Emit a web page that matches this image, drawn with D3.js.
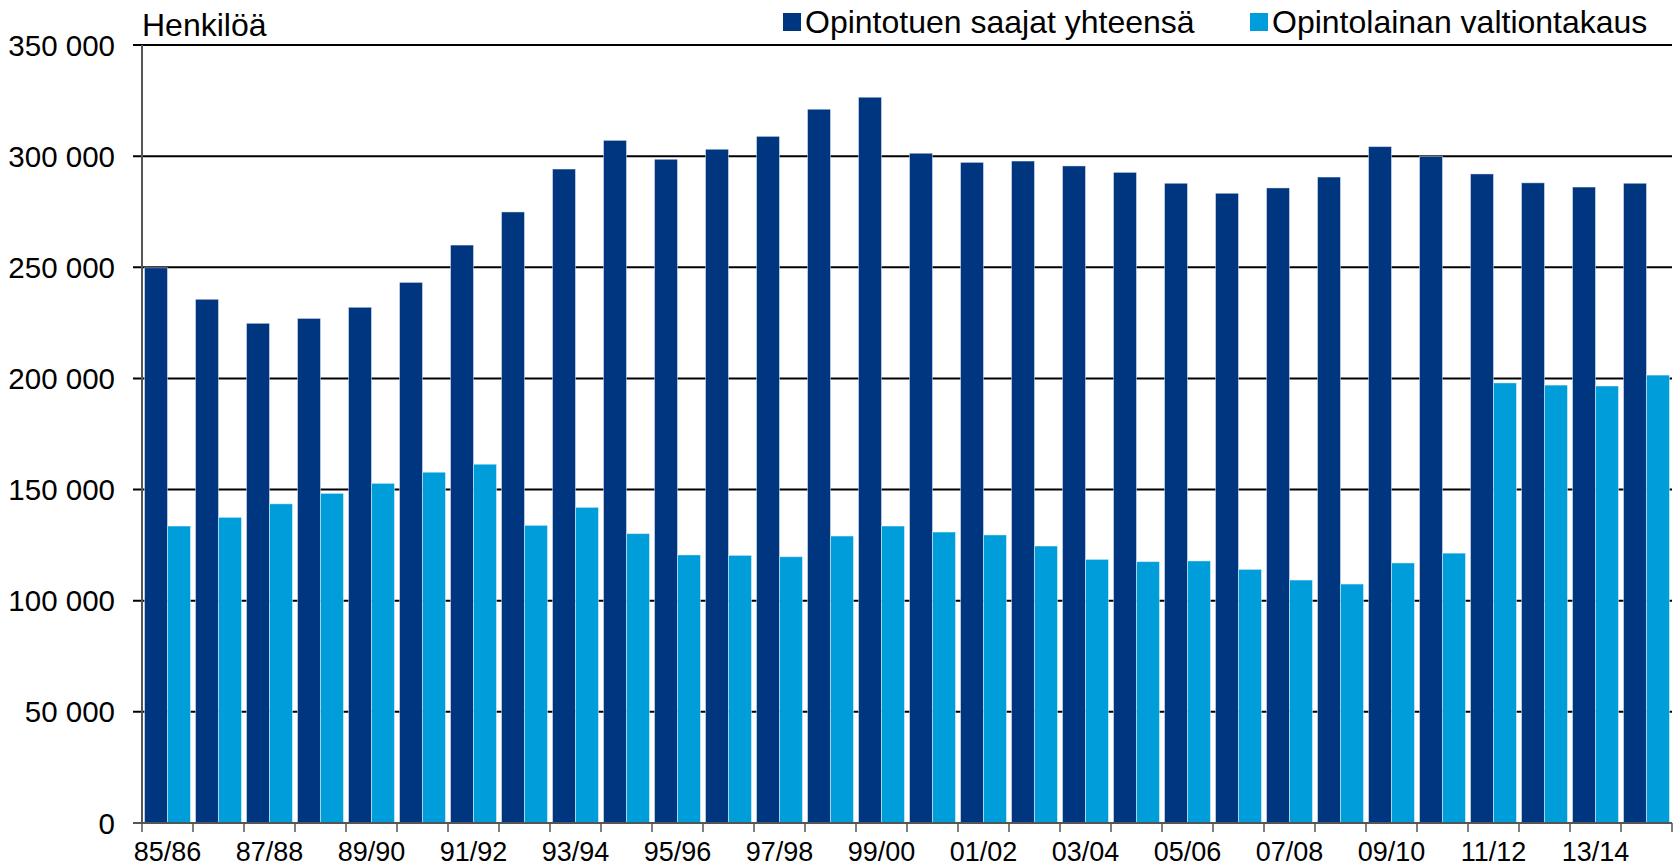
<!DOCTYPE html>
<html>
<head>
<meta charset="utf-8">
<script src="https://cdn.jsdelivr.net/npm/d3@7"></script>
<style>
  body { margin: 0; background: #fff; }
  svg text { font-family: "Liberation Sans", Arial, sans-serif; fill: #000; }
</style>
</head>
<body>
<div id="chart"></div>
<script>
// academic years 85/86 .. 14/15
var years = ['85/86','86/87','87/88','88/89','89/90','90/91','91/92','92/93','93/94','94/95',
             '95/96','96/97','97/98','98/99','99/00','00/01','01/02','02/03','03/04','04/05',
             '05/06','06/07','07/08','08/09','09/10','10/11','11/12','12/13','13/14','14/15'];

// Opintotuen saajat yhteensä
var saajat = [249800, 235600, 224800, 227000, 232000, 243200, 260000, 274900, 294200, 307100,
              298600, 303100, 308900, 321100, 326500, 301300, 297200, 297800, 295600, 292700,
              287800, 283300, 285700, 290600, 304300, 299900, 292000, 288000, 286100, 287800];

// Opintolainan valtiontakaus
var takaus = [133600, 137500, 143600, 148300, 152800, 157800, 161400, 133900, 142000, 130200,
              120600, 120400, 119800, 129100, 133600, 130900, 129600, 124600, 118600, 117600,
              117900, 114100, 109300, 107500, 117000, 121400, 198000, 197000, 196600, 201500];

var seriesNames = ['Opintotuen saajat yhteensä', 'Opintolainan valtiontakaus'];
var colors = ['#003580', '#009ddb'];
var yTicks = [0, 50000, 100000, 150000, 200000, 250000, 300000, 350000];

var width = 1676, height = 867;
var plotLeft = 142, plotRight = 1672, plotTop = 45, plotBottom = 823;

var svg = d3.select('#chart')
    .append('svg')
    .attr('width', width)
    .attr('height', height);

var y = d3.scaleLinear().domain([0, 350000]).range([plotBottom, plotTop]);
var x0 = d3.scaleBand().domain(years).range([plotLeft, plotRight]).paddingInner(0).paddingOuter(0);
var x1 = d3.scaleBand().domain([0, 1]).range([2.5, x0.bandwidth() - 2.5]);

// gridlines
svg.append('g')
    .selectAll('line')
    .data(yTicks.filter(function(d){ return d > 0; }))
    .enter()
    .append('line')
    .attr('x1', plotLeft - 9)
    .attr('x2', plotRight)
    .attr('y1', function(d){ return y(d); })
    .attr('y2', function(d){ return y(d); })
    .attr('stroke', '#000')
    .attr('stroke-width', 2);

// y labels
svg.append('g')
    .selectAll('text')
    .data(yTicks)
    .enter()
    .append('text')
    .attr('x', 115)
    .attr('y', function(d){ return y(d); })
    .attr('dy', '0.36em')
    .attr('text-anchor', 'end')
    .style('font-size', '29.5px')
    .text(function(d){ return d3.format(',')(d).replace(/,/g, ' '); });

// bars
var rows = years.map(function(yr, i){ return {year: yr, vals: [saajat[i], takaus[i]]}; });

var groups = svg.append('g')
    .selectAll('g')
    .data(rows)
    .enter()
    .append('g')
    .attr('transform', function(d){ return 'translate(' + x0(d.year) + ',0)'; });

groups.selectAll('rect')
    .data(function(d){ return d.vals; })
    .enter()
    .append('rect')
    .attr('x', function(d, i){ return x1(i); })
    .attr('width', x1.bandwidth())
    .attr('y', function(d){ return y(d); })
    .attr('height', function(d){ return y(0) - y(d); })
    .attr('fill', function(d, i){ return colors[i]; })
    .attr('stroke', 'rgba(255,255,255,0.45)')
    .attr('stroke-width', 1);

// axes lines
svg.append('line')
    .attr('x1', plotLeft).attr('x2', plotLeft)
    .attr('y1', plotTop).attr('y2', plotBottom)
    .attr('stroke', '#555').attr('stroke-width', 2);

svg.append('line')
    .attr('x1', plotLeft - 9).attr('x2', plotRight)
    .attr('y1', plotBottom).attr('y2', plotBottom)
    .attr('stroke', '#555').attr('stroke-width', 2);

// x ticks at category boundaries
var bounds = years.map(function(d){ return x0(d); }).concat([plotRight]);
svg.append('g')
    .selectAll('line')
    .data(bounds)
    .enter()
    .append('line')
    .attr('x1', function(d){ return d; })
    .attr('x2', function(d){ return d; })
    .attr('y1', plotBottom)
    .attr('y2', plotBottom + 9)
    .attr('stroke', '#555')
    .attr('stroke-width', 1.5);

// x labels, every other year
svg.append('g')
    .selectAll('text')
    .data(years.filter(function(d, i){ return i % 2 === 0; }))
    .enter()
    .append('text')
    .attr('x', function(d){ return x0(d) + x0.bandwidth() / 2; })
    .attr('y', 861)
    .attr('text-anchor', 'middle')
    .style('font-size', '27px')
    .text(function(d){ return d; });

// axis title
svg.append('text')
    .attr('x', 142)
    .attr('y', 36)
    .style('font-size', '32px')
    .text('Henkilöä');

// legend
var legendX = [783, 1250];
var legend = svg.append('g')
    .selectAll('g')
    .data(seriesNames)
    .enter()
    .append('g')
    .attr('transform', function(d, i){ return 'translate(' + legendX[i] + ',0)'; });

legend.append('rect')
    .attr('x', 0)
    .attr('y', 13)
    .attr('width', 18)
    .attr('height', 18)
    .attr('fill', function(d, i){ return colors[i]; });

legend.append('text')
    .attr('x', 22)
    .attr('y', 33)
    .style('font-size', '32px')
    .text(function(d){ return d; });
</script>
</body>
</html>
